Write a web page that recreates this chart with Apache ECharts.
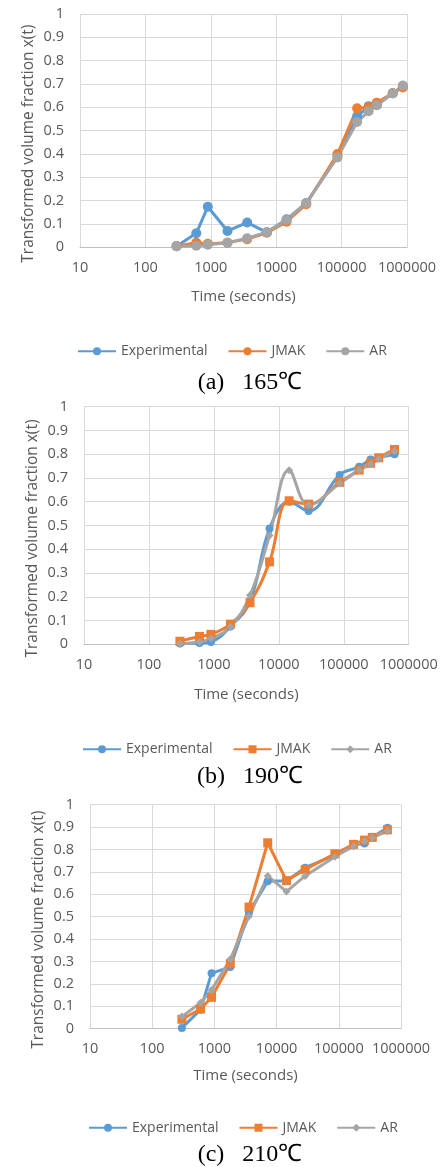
<!DOCTYPE html>
<html>
<head>
<meta charset="utf-8">
<script src="https://cdn.jsdelivr.net/npm/echarts@6/dist/echarts.min.js"></script>
<style>
  body { margin: 0; background: #fff; }
  .chart { width: 442px; }
</style>
</head>
<body>
<div id="chartA" class="chart" style="height: 395px"></div>
<div id="chartB" class="chart" style="height: 395px"></div>
<div id="chartC" class="chart" style="height: 377px"></div>
<script>
// annealing times (s)
const timesA = [300, 600, 900, 1800, 3600, 7200, 14400, 28800, 86400, 172800, 259200, 345600, 604800, 864000]
const timesBC = [300, 600, 900, 1800, 3600, 7200, 14400, 28800, 86400, 172800, 259200, 345600, 604800]

// (a) 165C
const expA = [0.005, 0.06, 0.174, 0.07, 0.106, 0.064, 0.12, 0.19, 0.39, 0.56, 0.605, 0.61, 0.66, 0.69]
const jmakA = [0.005, 0.02, 0.015, 0.02, 0.035, 0.062, 0.11, 0.185, 0.4, 0.596, 0.6, 0.62, 0.66, 0.685]
const arA = [0.005, 0.007, 0.011, 0.02, 0.039, 0.065, 0.117, 0.19, 0.385, 0.537, 0.583, 0.609, 0.66, 0.693]

// (b) 190C
const expB = [0.003, 0.005, 0.01, 0.075, 0.18, 0.487, 0.6, 0.561, 0.713, 0.747, 0.778, 0.785, 0.8]
const jmakB = [0.013, 0.033, 0.042, 0.085, 0.175, 0.347, 0.604, 0.59, 0.682, 0.733, 0.762, 0.785, 0.82]
const arB = [0.003, 0.01, 0.024, 0.073, 0.206, 0.458, 0.733, 0.586, 0.677, 0.733, 0.758, 0.78, 0.813]

// (c) 210C
const expC = [0.003, 0.085, 0.248, 0.275, 0.52, 0.658, 0.66, 0.719, 0.775, 0.82, 0.827, 0.855, 0.897]
const jmakC = [0.042, 0.088, 0.14, 0.29, 0.543, 0.83, 0.661, 0.711, 0.781, 0.823, 0.842, 0.854, 0.888]
const arC = [0.054, 0.116, 0.173, 0.31, 0.502, 0.682, 0.612, 0.682, 0.768, 0.815, 0.838, 0.853, 0.882]

const seriesNames = ['Experimental', 'JMAK', 'AR']
const xTicks = [10, 100, 1000, 10000, 100000, 1000000]
const yMin = 0, yMax = 1, yStep = 0.1

const colors = ['#5b9bd5', '#ed7d31', '#a5a5a5']
const labelColor = '#595959'
const sans = '"Open Sans", "Liberation Sans", Arial, sans-serif'
const serif = '"Liberation Serif", "Times New Roman", serif'

function pairs(times, vals) {
  return times.map((t, i) => [t, vals[i]])
}

function makeOption(c) {
  const plotMid = c.grid.top + (c.height - c.grid.top - c.grid.bottom) / 2
  const axisY = c.height - c.grid.bottom
  return {
    animation: false,
    color: colors,
    grid: c.grid,
    legend: {
      left: c.legendLeft,
      top: axisY + c.legendOff - 9,
      itemWidth: 38,
      itemHeight: 10,
      itemGap: 20,
      textStyle: { color: labelColor, fontSize: 14, fontFamily: sans },
      data: seriesNames,
    },
    xAxis: {
      type: 'log',
      logBase: 10,
      min: xTicks[0],
      max: xTicks[xTicks.length - 1],
      splitNumber: 5,
      axisLine: { lineStyle: { color: '#bfbfbf' } },
      axisTick: { show: false },
      axisLabel: {
        color: labelColor,
        fontSize: 14.5,
        fontFamily: sans,
        margin: 13,
        formatter: (v) => String(Math.round(v)),
      },
      splitLine: { show: true, lineStyle: { color: '#d9d9d9' } },
      name: 'Time (seconds)',
      nameLocation: 'middle',
      nameGap: c.nameGap,
      nameTextStyle: { color: labelColor, fontSize: 15, fontFamily: sans },
    },
    yAxis: {
      type: 'value',
      min: yMin,
      max: yMax,
      interval: yStep,
      axisLine: { show: false },
      axisTick: { show: false },
      axisLabel: { color: labelColor, fontSize: 14.5, fontFamily: sans, margin: 16 },
      splitLine: { lineStyle: { color: '#d9d9d9' } },
    },
    graphic: [
      {
        type: 'text',
        x: c.yNameX,
        y: plotMid + 13,
        rotation: Math.PI / 2,
        style: {
          text: 'Transformed volume fraction x(t)',
          align: 'center',
          verticalAlign: 'middle',
          fontSize: 15.5,
          fontFamily: sans,
          fill: labelColor,
        },
      },
      {
        type: 'text',
        x: 250,
        y: axisY + c.captionOff,
        style: {
          text: c.caption,
          align: 'center',
          verticalAlign: 'middle',
          fontSize: 24,
          fontFamily: serif,
          fill: '#000',
        },
      },
    ],
    series: c.data.map((d, i) => ({
      name: seriesNames[i],
      type: 'line',
      data: pairs(c.times, d),
      smooth: c.smooth,
      symbol: c.symbols[i],
      symbolSize: c.sizes[i],
      lineStyle: { width: 3 },
    })),
  }
}

const chartA = echarts.init(document.getElementById('chartA'))
chartA.setOption(makeOption({
  height: 395,
  grid: { left: 80, right: 35, top: 14, bottom: 147.7 },
  times: timesA,
  data: [expA, jmakA, arA],
  smooth: false,
  symbols: ['circle', 'circle', 'circle'],
  sizes: [10, 10, 10],
  legendLeft: 72,
  legendOff: 101,
  captionOff: 135,
  nameGap: 42,
  yNameX: 29,
  caption: '(a)   165℃',
}))

const chartB = echarts.init(document.getElementById('chartB'))
chartB.setOption(makeOption({
  height: 395,
  grid: { left: 84, right: 33.3, top: 11.7, bottom: 145.7 },
  times: timesBC,
  data: [expB, jmakB, arB],
  smooth: 0.4,
  symbols: ['circle', 'rect', 'diamond'],
  sizes: [8, 9, 8],
  legendLeft: 77,
  legendOff: 102,
  captionOff: 132,
  nameGap: 43,
  yNameX: 33,
  caption: '(b)   190℃',
}))

const chartC = echarts.init(document.getElementById('chartC'))
chartC.setOption(makeOption({
  height: 377,
  grid: { left: 90, right: 41, top: 14.7, bottom: 138.3 },
  times: timesBC,
  data: [expC, jmakC, arC],
  smooth: false,
  symbols: ['circle', 'rect', 'diamond'],
  sizes: [8, 9, 8],
  legendLeft: 83,
  legendOff: 96,
  captionOff: 126,
  nameGap: 40,
  yNameX: 39,
  caption: '(c)   210℃',
}))
</script>
</body>
</html>
